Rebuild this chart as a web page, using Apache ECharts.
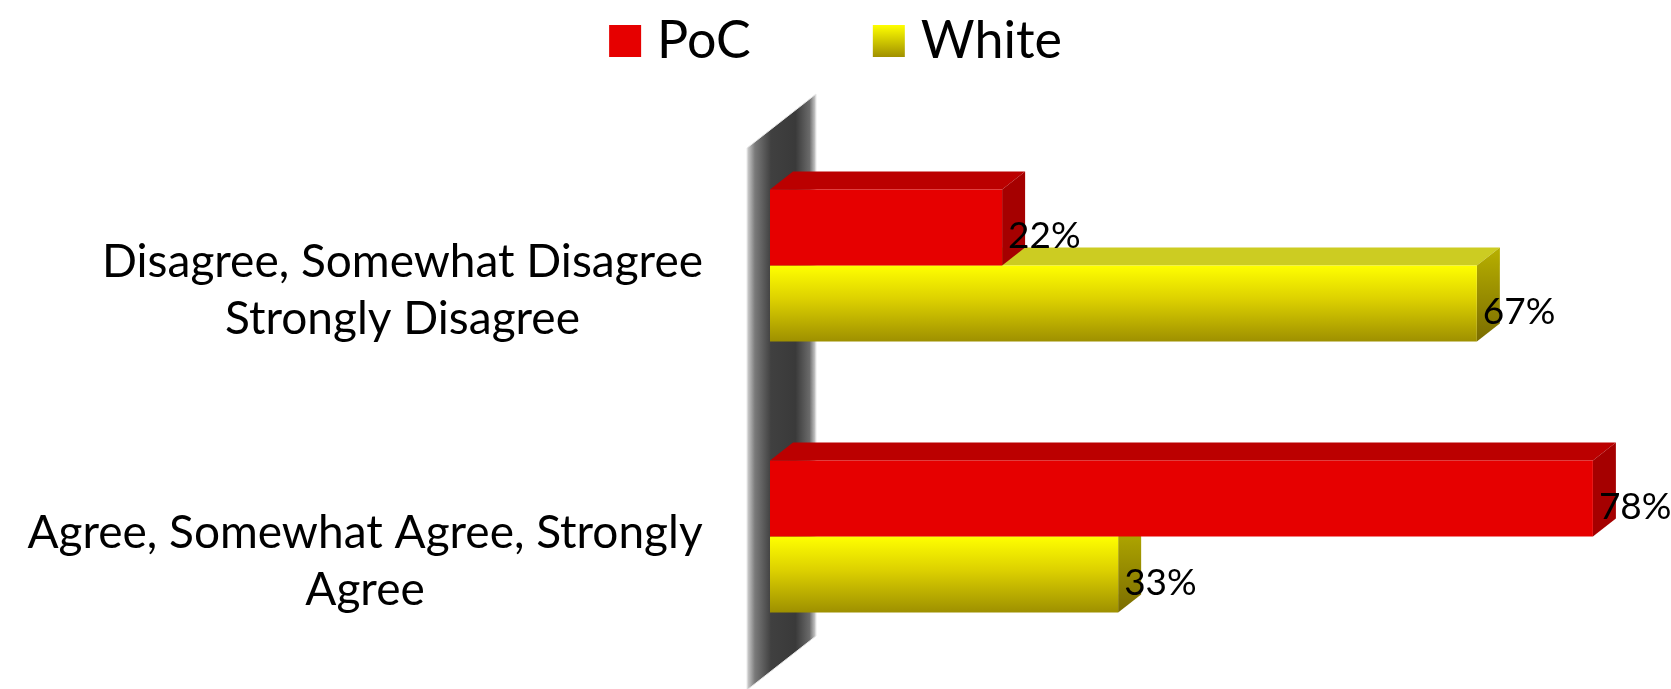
<!DOCTYPE html>
<html>
<head>
<meta charset="utf-8">
<script src="https://cdn.jsdelivr.net/npm/echarts@6/dist/echarts.min.js"></script>
<style>
html,body{margin:0;padding:0;background:#fff;}
#chart{width:1671px;height:689px;}
</style>
</head>
<body>
<div id="chart"></div>
<script>
// ---- data ----
const categoryLines = [
  ['Disagree, Somewhat Disagree', 'Strongly Disagree'],
  ['Agree, Somewhat Agree, Strongly', 'Agree']
];
const seriesNames = ['PoC', 'White'];
const pocValues = [22, 78];
const whiteValues = [67, 33];
const valueMax = 80;

// ---- style ----
const FONT = 'Lato';
const CAT_FONT_SIZE = 46;
const DX = 23, DY = 18;
const BAR_RATIO = 0.28;

const categories = categoryLines.map(l => l.join('\n'));

// measure widths for centered multi-line labels
const ctx = document.createElement('canvas').getContext('2d');
ctx.font = CAT_FONT_SIZE + 'px ' + FONT;
const rich = {};
categoryLines.forEach((lines, i) => {
  const w = Math.ceil(Math.max(...lines.map(s => ctx.measureText(s).width)));
  rich['c' + i] = { width: w, align: 'center', fontSize: CAT_FONT_SIZE, fontFamily: FONT, color: '#000', lineHeight: 57 };
});

const palettes = {
  PoC: {
    front: '#e60000',
    top: '#bb0000',
    side: '#a50000',
    legend: '#e60000'
  },
  White: {
    front: new echarts.graphic.LinearGradient(0, 0, 0, 1, [
      { offset: 0, color: '#ffff00' },
      { offset: 0.45, color: '#dcd000' },
      { offset: 1, color: '#9e9000' }
    ]),
    top: '#cccc22',
    side: new echarts.graphic.LinearGradient(0, 0, 0, 1, [
      { offset: 0, color: '#b8b000' },
      { offset: 1, color: '#7a6c00' }
    ]),
    legend: new echarts.graphic.LinearGradient(0, 0, 0, 1, [
      { offset: 0, color: '#ffff00' },
      { offset: 1, color: '#a09000' }
    ])
  }
};

function makeRender(slot, pal) {
  return function (params, api) {
    const v = api.value(0), c = api.value(1);
    const p0 = api.coord([0, c]);
    const p1 = api.coord([v, c]);
    const band = api.size([0, 1])[1];
    const bw = band * BAR_RATIO;
    const yTop = slot === 0 ? p0[1] - bw : p0[1];
    const yBot = yTop + bw;
    const x0 = p0[0], x1 = p1[0];
    return {
      type: 'group',
      children: [
        { type: 'polygon', shape: { points: [[x0, yTop], [x0 + DX, yTop - DY], [x1 + DX, yTop - DY], [x1, yTop]] }, style: { fill: pal.top } },
        { type: 'polygon', shape: { points: [[x1, yTop], [x1 + DX, yTop - DY], [x1 + DX, yBot - DY], [x1, yBot]] }, style: { fill: pal.side } },
        { type: 'rect', shape: { x: x0, y: yTop, width: x1 - x0, height: bw }, style: { fill: pal.front } },
        { type: 'text', x: x1 + 6, y: (yTop + yBot) / 2 + 9, style: { text: v + '%', fontSize: 37, fontFamily: FONT, fill: '#000', align: 'left', verticalAlign: 'middle' } }
      ]
    };
  };
}

function renderWall(params, api) {
  const cs = params.coordSys;
  const x0 = api.coord([0, 0])[0];
  const top = cs.y, bot = cs.y + cs.height;
  const fx = x0 - DX, bx = x0 + 2 * DX;
  return {
    type: 'polygon',
    shape: { points: [[fx, top + DY], [bx, top - 2 * DY], [bx, bot - 2 * DY], [fx, bot + DY]] },
    style: {
      fill: new echarts.graphic.LinearGradient(0, 0, 1, 0, [
        { offset: 0, color: '#d8d8d8' },
        { offset: 0.12, color: '#7a7a7a' },
        { offset: 0.35, color: '#404040' },
        { offset: 0.7, color: '#3a3a3a' },
        { offset: 0.9, color: '#6a6a6a' },
        { offset: 1, color: '#dcdcdc' }
      ]),
      stroke: '#e8e8e8',
      lineWidth: 1
    }
  };
}

const chart = echarts.init(document.getElementById('chart'), null, { renderer: 'canvas' });
chart.setOption({
  backgroundColor: '#fff',
  animation: false,
  legend: {
    data: seriesNames,
    left: 'center',
    top: 6,
    itemWidth: 32,
    itemHeight: 32,
    itemGap: 122,
    icon: 'rect',
    textStyle: { fontSize: 52, fontFamily: FONT, color: '#000', lineHeight: 60, padding: [0, 0, 0, 11] }
  },
  grid: { left: 770, right: 57, top: 130, bottom: 17, containLabel: false },
  xAxis: { type: 'value', min: 0, max: valueMax, show: false },
  yAxis: {
    type: 'category',
    data: categories,
    inverse: true,
    axisLine: { show: false },
    axisTick: { show: false },
    splitLine: { show: false },
    axisLabel: {
      margin: 67,
      padding: [50, 0, 0, 0],
      formatter: function (val, idx) {
        return categoryLines[idx].map(s => '{c' + idx + '|' + s + '}').join('\n');
      },
      rich: rich
    }
  },
  series: [
    { name: 'wall', type: 'custom', silent: true, renderItem: renderWall, data: [[0, 0]], encode: { x: 0, y: 1 }, z: 1 },
    { name: 'White', type: 'custom', renderItem: makeRender(1, palettes.White), itemStyle: { color: palettes.White.legend },
      data: whiteValues.map((v, i) => [v, i]), encode: { x: 0, y: 1 }, z: 2 },
    { name: 'PoC', type: 'custom', renderItem: makeRender(0, palettes.PoC), itemStyle: { color: palettes.PoC.legend },
      data: pocValues.map((v, i) => [v, i]), encode: { x: 0, y: 1 }, z: 3 }
  ]
});
</script>
</body>
</html>
